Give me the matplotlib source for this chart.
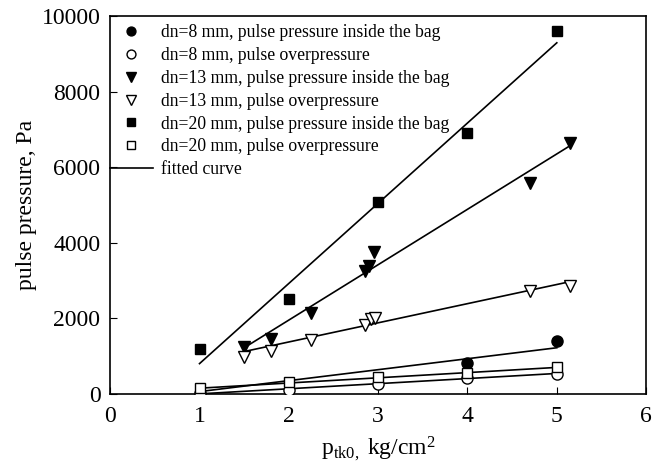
import numpy as np
from matplotlib import pyplot as plt

plt.rcParams['font.family'] = 'Liberation Serif'
plt.rcParams['mathtext.fontset'] = 'custom'
plt.rcParams['mathtext.rm'] = 'Liberation Serif'
plt.rcParams['mathtext.it'] = 'Liberation Serif:italic'

# measured points, x in kg/cm2, pulse pressure in Pa
x8_in = [4, 5]
y8_in = [820, 1400]
x8_over = [1, 2, 3, 4, 5]
y8_over = [20, 100, 250, 420, 530]
x13_in = [1.5, 1.8, 2.25, 2.85, 2.9, 2.95, 4.7, 5.15]
y13_in = [1250, 1460, 2150, 3260, 3390, 3760, 5580, 6640]
x13_over = [1.5, 1.8, 2.25, 2.85, 2.92, 2.96, 4.7, 5.15]
y13_over = [980, 1140, 1430, 1830, 1990, 2020, 2730, 2860]
x20_in = [1, 2, 3, 4, 5]
y20_in = [1180, 2520, 5080, 6900, 9600]
x20_over = [1, 2, 3, 4, 5]
y20_over = [160, 320, 450, 560, 700]

# fitted lines (end points)
fit8_in = ([1, 5], [60, 1220])
fit8_over = ([1, 5], [0, 540])
fit13_in = ([1.5, 5.13], [1220, 6540])
fit13_over = ([1.5, 5.13], [1120, 2960])
fit20_in = ([1, 5], [800, 9290])
fit20_over = ([1, 5], [150, 700])

labels = ['dn=8 mm, pulse pressure inside the bag',
          'dn=8 mm, pulse overpressure',
          'dn=13 mm, pulse pressure inside the bag',
          'dn=13 mm, pulse overpressure',
          'dn=20 mm, pulse pressure inside the bag',
          'dn=20 mm, pulse overpressure',
          'fitted curve']

fig = plt.figure(figsize=(6.52, 4.70), dpi=100)
ax = fig.add_axes([0.169, 0.162, 0.822, 0.804])

for fx, fy in [fit8_in, fit8_over, fit13_in, fit13_over, fit20_in, fit20_over]:
    fit_line, = ax.plot(fx, fy, color='black', lw=1.2, zorder=2)

h1, = ax.plot(x8_in, y8_in, 'o', color='black', ms=8, ls='none', zorder=3)
h3, = ax.plot(x13_in, y13_in, 'v', color='black', ms=8.5, ls='none', zorder=3)
h5, = ax.plot(x20_in, y20_in, 's', color='black', ms=7, ls='none', zorder=3)
h2, = ax.plot(x8_over, y8_over, 'o', mfc='white', mec='black', mew=1, ms=8, ls='none', zorder=4)
h4, = ax.plot(x13_over, y13_over, 'v', mfc='white', mec='black', mew=1, ms=8.5, ls='none', zorder=4)
h6, = ax.plot(x20_over, y20_over, 's', mfc='white', mec='black', mew=1, ms=7, ls='none', zorder=4)

leg = ax.legend([h1, h2, h3, h4, h5, h6, fit_line], labels, loc='upper left',
                bbox_to_anchor=(0.0, 0.978), frameon=False, fontsize=12.7,
                borderaxespad=0, borderpad=0, handlelength=2.4,
                handletextpad=0.48, labelspacing=0.33, markerscale=0.8)

ax.set_xlim(0, 6)
ax.set_ylim(0, 10000)
ax.set_xticks(range(0, 7))
ax.set_yticks(range(0, 10001, 2000))
ax.tick_params(direction='in', length=5, labelsize=17)
ax.tick_params(axis='x', pad=9)
ax.tick_params(axis='y', pad=7)
for s in ax.spines.values():
    s.set_linewidth(1.2)

ax.set_xlabel(r'p$_{\mathrm{tk0},}$ kg/cm$^2$', fontsize=17, labelpad=5)
ax.set_ylabel('pulse pressure, Pa', fontsize=17, labelpad=3)

fig.savefig('out.png', dpi=100)
